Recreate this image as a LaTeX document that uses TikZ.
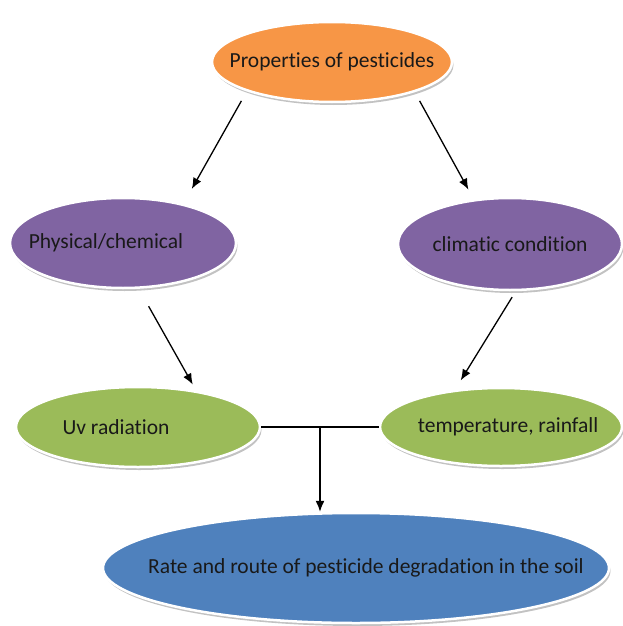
\documentclass[tikz,border=0pt]{standalone}
\usepackage{fontspec}
\setmainfont{Carlito}[Ligatures=NoCommon]
\usetikzlibrary{shapes.geometric,shadows,arrows.meta}
\definecolor{propcol}{HTML}{F79646}
\definecolor{factcol}{HTML}{8064A2}
\definecolor{agentcol}{HTML}{9BBB59}
\definecolor{ratecol}{HTML}{4F81BD}
\tikzset{
  blob/.style={ellipse, draw=white, line width=2.5pt, inner sep=0pt,
    drop shadow={shadow xshift=1.5pt, shadow yshift=-3pt, opacity=0.4, fill=black!60}},
  lbl/.style={font=\fontsize{21.5}{25}\selectfont, text=black!90},
  arr/.style={-{Latex[length=11pt,width=9pt]}, line width=1.3pt}
}
\begin{document}
\begin{tikzpicture}[x=1pt,y=-1pt]
\useasboundingbox (0,0) rectangle (623,626);
% ellipses
\node[blob, fill=propcol, minimum width=240, minimum height=80,
  label={[lbl]center:{Properties of pesticides}}] (top) at (332,62) {};
\node[blob, fill=factcol, minimum width=226, minimum height=90,
  label={[lbl, xshift=-17pt]center:{Physical/chemical}}] (phys) at (123,243) {};
\node[blob, fill=factcol, minimum width=224, minimum height=92,
  label={[lbl]center:{climatic condition}}] (clim) at (510,244) {};
\node[blob, fill=agentcol, minimum width=244, minimum height=80,
  label={[lbl, xshift=-22pt]center:{Uv radiation}}] (uv) at (138,427) {};
\node[blob, fill=agentcol, minimum width=242, minimum height=78,
  label={[lbl, xshift=7pt]center:{temperature, rainfall}}] (temp) at (501,427) {};
\node[blob, fill=ratecol, minimum width=506, minimum height=110,
  label={[lbl, xshift=10pt]center:{Rate and route of pesticide degradation in the soil}}] (deg) at (356,568) {};
% arrows
\draw[arr, shorten <=11pt, shorten >=17pt] (top.199) -- (phys.33);
\draw[arr, shorten <=10pt, shorten >=11pt] (top.340) -- (clim.129);
\draw[arr, shorten <=20pt, shorten >=7pt] (phys.289) -- (uv.32);
\draw[arr, shorten <=7pt, shorten >=11pt] (clim.277) -- (temp.141);
\draw[line width=1.3pt] (uv.east) -- (temp.west);
\coordinate (join) at (320,427);
\draw[arr] (join) -- (join |- deg.north);
\end{tikzpicture}
\end{document}
